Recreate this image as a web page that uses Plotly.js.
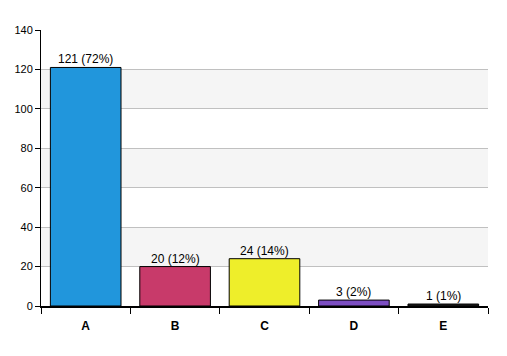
<!DOCTYPE html>
<html><head><meta charset="utf-8">
<script src="https://cdn.plot.ly/plotly-3.0.1.min.js"></script>
<style>html,body{margin:0;padding:0;background:#fff}#chart{width:507px;height:356px}</style>
</head><body><div id="chart"></div>
<script>
const categories = ["A","B","C","D","E"];
const values = [121, 20, 24, 3, 1];
const barColors = ["#2196dc","#c83a6a","#eeee2a","#7c4ec2","#222222"];
const yTicks = [0,20,40,60,80,100,120,140];
const shadedBands = [[20,40],[60,80],[100,120]];

const total = values.reduce((a,b)=>a+b,0);
const labels = values.map(v => v + " (" + Math.round(v/total*100) + "%)");

const shapes = shadedBands.map(b => ({
  type:"rect", xref:"paper", yref:"y", x0:0, x1:1, y0:b[0], y1:b[1],
  fillcolor:"#f5f5f5", line:{width:0}, layer:"below"
}));

const annotations = categories.map((c,i) => ({
  x:c, y:values[i], xref:"x", yref:"y", text:labels[i], showarrow:false,
  yanchor:"bottom", yshift:-1,
  font:{family:"Liberation Sans, Arial, sans-serif", size:12, color:"#000"}
}));

Plotly.newPlot("chart", [{
  type:"bar", x:categories, y:values,
  marker:{color:barColors, line:{color:"#000", width:1}},
  width:0.79, hoverinfo:"none"
}], {
  width:507, height:356,
  margin:{l:41, r:19, t:30, b:50},
  paper_bgcolor:"#fff", plot_bgcolor:"rgba(0,0,0,0)",
  showlegend:false, shapes:shapes, annotations:annotations,
  xaxis:{type:"category", showgrid:false, zeroline:false, showline:true, linecolor:"#000", linewidth:2,
    ticks:"outside", tickson:"boundaries", ticklen:6, tickcolor:"#000", tickwidth:1,
    ticklabelstandoff:8,
    tickfont:{family:"Liberation Sans, Arial, sans-serif", size:12, color:"#000", weight:"bold"}},
  yaxis:{range:[0,140], tickvals:yTicks, showgrid:true, gridcolor:"#c0c0c0", gridwidth:1, zeroline:false,
    showline:true, linecolor:"#000", linewidth:1, ticks:"outside", ticklen:5, tickcolor:"#000",
    tickfont:{family:"Liberation Sans, Arial, sans-serif", size:11, color:"#000"}}
}, {staticPlot:true});
</script></body></html>
